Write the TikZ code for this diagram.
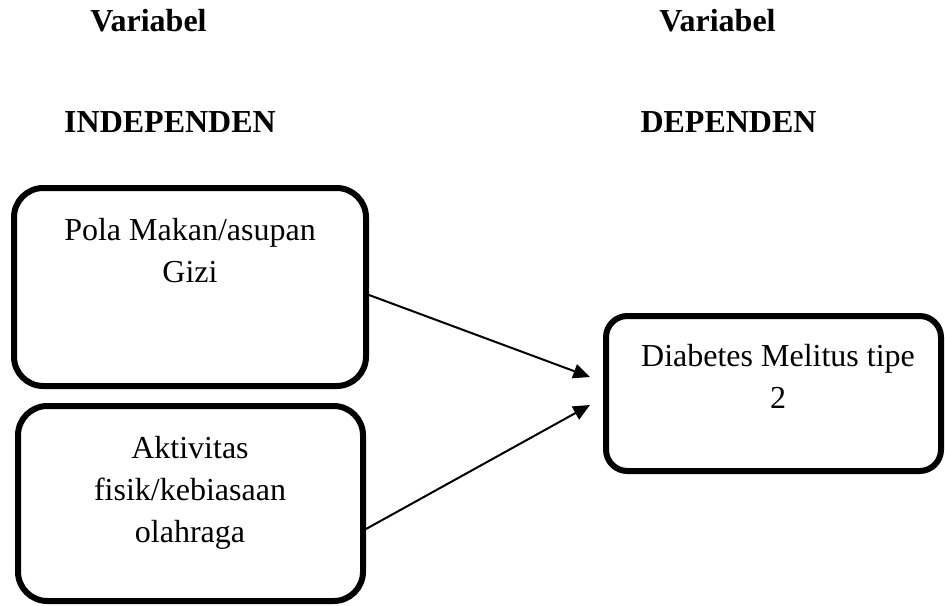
\documentclass[tikz,border=0pt]{standalone}
\usepackage{fontspec}
\setmainfont{Liberation Serif}
\usetikzlibrary{arrows.meta,calc}
\begin{document}
\begin{tikzpicture}[x=0.75pt,y=-0.75pt,
  heading/.style={font=\fontsize{24}{31.5}\selectfont\bfseries, anchor=base, inner sep=0pt},
  boxtext/.style={font=\fontsize{24}{31.5}\selectfont, align=center, anchor=north, inner sep=0pt},
  varbox/.style={draw=black, line width=4.5pt, rounded corners=22pt, rectangle, inner sep=0pt},
  link/.style={draw=black, line width=1.5pt, -{Triangle[length=12.5pt,width=11pt]}}]
\useasboundingbox (0,0) rectangle (945,606);
\fill[white] (0,0) rectangle (945,606);
% headings
\node[heading] (h1) at (148.5,32) {Variabel};
\node[heading] (h2) at (170,133) {INDEPENDEN};
\node[heading] (h3) at (717.5,32) {Variabel};
\node[heading] (h4) at (728.5,133) {DEPENDEN};
% boxes
\node[varbox, minimum width=264pt, minimum height=148.5pt] (b1) at (190,287) {};
\node[varbox, minimum width=258.75pt, minimum height=146.25pt] (b2) at (190.5,503.5) {};
\node[varbox, rounded corners=16pt, minimum width=251.25pt, minimum height=116.25pt] (b3) at (773.5,393.5) {};
% texts
\node[boxtext] (t1) at (190,218) {Pola Makan/asupan\\Gizi};
\node[boxtext] (t2) at (190,436) {Aktivitas\\fisik/kebiasaan\\olahraga};
\node[boxtext] (t3) at (778,344) {Diabetes Melitus tipe\\2};
% connectors
\coordinate (s1) at ($(b1.east)+(0,8)$);
\coordinate (s2) at ($(b2.east)+(0,25.5)$);
\coordinate (e1) at ($(b3.west)+(-13,-16.5)$);
\coordinate (e2) at ($(b3.west)+(-13,11.5)$);
\draw[link] (s1) -- (e1);
\draw[link] (s2) -- (e2);
\end{tikzpicture}
\end{document}
